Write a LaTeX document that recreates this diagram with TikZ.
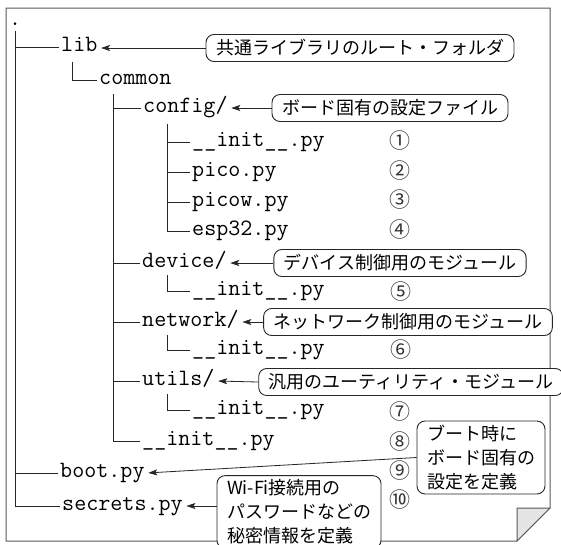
\documentclass[tikz,border=0pt]{standalone}
\usepackage{fontspec}
\setmainfont{Liberation Sans}
\newfontfamily\jpfont{Noto Sans CJK JP}
\usetikzlibrary{arrows.meta}
\begin{document}
\begin{tikzpicture}[x=1pt,y=-1pt,
  fname/.style={font=\ttfamily\fontsize{23.4}{24}\selectfont, anchor=west, inner sep=2pt, text height=12pt, text depth=3pt},
  tline/.style={draw=black!85, line width=0.9pt},
  framec/.style={draw=black!65, line width=1pt},
  callout/.style={draw=black!85, fill=white, rounded corners=8pt, line width=0.9pt, font=\jpfont\fontsize{18}{24}\selectfont, inner xsep=10pt, inner ysep=4pt, minimum height=27pt, align=left},
  num/.style={font=\jpfont\fontsize{21}{21}\selectfont, inner sep=0pt, text=black!80},
  arr/.style={draw=black!85, line width=0.8pt, -{Stealth[length=9pt,width=6pt,inset=2pt]}, shorten >=1.5pt},
]
\useasboundingbox (0,0) rectangle (561,544);
% frame with folded corner
\draw[framec, fill=white] (6,8) -- (550,8) -- (550,508) -- (517,541) -- (6,541) -- cycle;
\draw[framec, fill=black!10] (517,508) -- (550,508) -- (517,541) -- cycle;

% file names
\node[fname] (dot) at (7,21) {.};
\node[fname] (lib) at (59,47) {lib};
\node[fname] (common) at (97,80) {common};
\node[fname] (config) at (141,108) {config/};
\node[fname] (cinit) at (190,142) {\_\_init\_\_.py};
\node[fname] (pico) at (190,172) {pico.py};
\node[fname] (picow) at (190,202) {picow.py};
\node[fname] (esp) at (190,231) {esp32.py};
\node[fname] (device) at (140,263) {device/};
\node[fname] (dinit) at (190,291) {\_\_init\_\_.py};
\node[fname] (network) at (140,322) {network/};
\node[fname] (ninit) at (190,350) {\_\_init\_\_.py};
\node[fname] (utils) at (140,381) {utils/};
\node[fname] (uinit) at (190,410) {\_\_init\_\_.py};
\node[fname] (minit) at (140,441) {\_\_init\_\_.py};
\node[fname] (boot) at (58,473) {boot.py};
\node[fname] (secrets) at (60,506) {secrets.py};

% tree coordinates
\coordinate (rv) at (15,31);
\coordinate (lv) at (72,62);
\coordinate (cv) at (113,94);
\coordinate (fv) at (167,124);
\coordinate (dv) at (167,275);
\coordinate (nv) at (167,335);
\coordinate (uv) at (167,394);

\draw[tline] (rv) |- (lib.west);
\draw[tline] (rv) |- (boot.west);
\draw[tline] (rv) |- (secrets.west);
\draw[tline] (lv) |- (common.west);
\draw[tline] (cv) |- (config.west);
\draw[tline] (cv) |- (device.west);
\draw[tline] (cv) |- (network.west);
\draw[tline] (cv) |- (utils.west);
\draw[tline] (cv) |- (minit.west);
\draw[tline] (fv) |- (cinit.west);
\draw[tline] (fv) |- (pico.west);
\draw[tline] (fv) |- (picow.west);
\draw[tline] (fv) |- (esp.west);
\draw[tline] (dv) |- (dinit.west);
\draw[tline] (nv) |- (ninit.west);
\draw[tline] (uv) |- (uinit.west);

% circled numbers
\node[num] (n1) at (400,141) {①};
\node[num] (n2) at (400,171) {②};
\node[num] (n3) at (400,200) {③};
\node[num] (n4) at (400,230) {④};
\node[num] (n5) at (401,292) {⑤};
\node[num] (n6) at (401,350) {⑥};
\node[num] (n7) at (400,412) {⑦};
\node[num] (n8) at (400,442) {⑧};
\node[num] (n9) at (400,471) {⑨};
\node[num] (n10) at (400,500) {⑩};

% callouts
\node[callout] (c1) at (360,48) {共通ライブラリのルート・フォルダ};
\node[callout] (c2) at (390,108) {ボード固有の設定ファイル};
\node[callout] (c3) at (400,263) {デバイス制御用のモジュール};
\node[callout] (c4) at (408,322) {ネットワーク制御用のモジュール};
\node[callout] (c5) at (411,382) {汎用のユーティリティ・モジュール};
\node[callout] (c6) at (481,457.5) {ブート時に\\ボード固有の\\設定を定義};
\node[callout] (c7) at (299,512) {Wi-Fi接続用の\\パスワードなどの\\秘密情報を定義};

% arrows
\draw[arr] (c1.west) -- (lib.east |- c1.west);
\draw[arr] (c2.west) -- (config.east |- c2.west);
\draw[arr] (c3.west) -- (device.east);
\draw[arr] (c4.west) -- (network.east);
\draw[arr] (c5.west) -- (utils.east);
\draw[arr] (c6.west) -- (boot.east);
\draw[arr] (c7.west |- secrets.east) -- (secrets.east);
\end{tikzpicture}
\end{document}
